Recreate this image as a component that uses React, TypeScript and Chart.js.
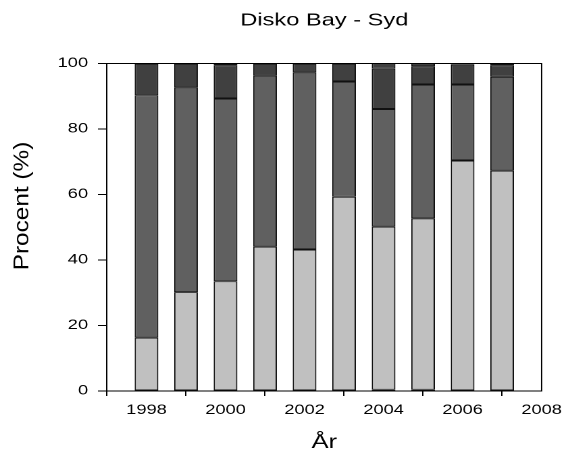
import React, { useEffect, useRef } from "react";
import { Chart, registerables } from "chart.js";

Chart.register(...registerables);

// ---- data ----
const years = [1998, 1999, 2000, 2001, 2002, 2003, 2004, 2005, 2006, 2007];
const traceShare = [null, null, null, null, null, null, 0.4, 0.4, null, null];
const lightShare = [16.3, 30.2, 33.5, 44.1, 43.2, 59.3, 49.8, 52.3, 70.4, 67.3];
const midShare = [74.0, 62.5, 55.8, 52.2, 54.1, 35.2, 35.9, 40.9, 23.2, 28.6];
const darkShare = [9.7, 7.3, 10.2, 3.7, 2.7, 5.5, 12.3, 5.6, 6.0, 3.6];
const topShare = [null, null, 0.5, null, null, null, 2.0, 1.2, 0.4, 0.5];
const xTickValues = [1998, 2000, 2002, 2004, 2006, 2008];
const yTickValues = [0, 20, 40, 60, 80, 100];
const chartTitle = "Disko Bay - Syd";
const xTitle = "År";
const yTitle = "Procent (%)";

// ---- geometry / style ----
const CSS_W = 570;
const CSS_H = 453;
const CANVAS_W = 422;
const STRETCH = CSS_W / CANVAS_W;
const FONT = '"Liberation Sans", Arial, Helvetica, sans-serif';

const LIGHT = "#c0c0c0";
const MID = "#606060";
const DARK = "#404040";
const EDGE = "#111111";

function toPoints(vals: (number | null)[]) {
  return years.map((x, i) => ({ x, y: vals[i] }));
}

export default function App() {
  const ref = useRef<HTMLCanvasElement | null>(null);

  useEffect(() => {
    if (!ref.current) return;
    const mk = (label: string, vals: (number | null)[], color: string) => ({
      label,
      data: toPoints(vals),
      backgroundColor: color,
      borderColor: EDGE,
      borderWidth: 1,
      borderSkipped: false as const,
      barPercentage: 0.6,
      categoryPercentage: 1.0,
    });

    const framePlugin = {
      id: "frame",
      afterDraw(chart: any) {
        const { ctx, chartArea } = chart;
        ctx.save();
        ctx.strokeStyle = "#000";
        ctx.lineWidth = 1;
        ctx.beginPath();
        ctx.moveTo(chartArea.left, chartArea.top);
        ctx.lineTo(chartArea.right, chartArea.top);
        ctx.lineTo(chartArea.right, chartArea.bottom);
        ctx.stroke();
        // y-axis title, drawn without the page's horizontal stretch
        ctx.translate(22.5 / STRETCH, 206);
        ctx.scale(1 / STRETCH, 1);
        ctx.rotate(-Math.PI / 2);
        ctx.scale(1.16, 1);
        ctx.font = `21px ${FONT}`;
        ctx.fillStyle = "#000";
        ctx.textAlign = "center";
        ctx.textBaseline = "middle";
        ctx.fillText(yTitle, 0, 0);
        ctx.restore();
      },
    };

    const chart = new Chart(ref.current, {
      type: "bar",
      data: {
        datasets: [
          mk("trace", traceShare, "#000000"),
          mk("light", lightShare, LIGHT),
          mk("mid", midShare, MID),
          mk("dark", darkShare, DARK),
          mk("top", topShare, DARK),
        ],
      },
      options: {
        animation: false,
        responsive: false,
        devicePixelRatio: 2,
        layout: { padding: { left: 0, right: 18.3, top: 0, bottom: 0 } },
        plugins: {
          legend: { display: false },
          tooltip: { enabled: false },
          title: {
            display: true,
            text: chartTitle,
            fullSize: false,
            color: "#000",
            font: { family: FONT, size: 17.5, weight: "normal", lineHeight: 1.2 },
            padding: { top: 10, bottom: 32.5 },
          },
        },
        scales: {
          x: {
            type: "linear",
            stacked: true,
            min: 1997,
            max: 2008,
            offset: false,
            afterBuildTicks: (s: any) => {
              s.ticks = xTickValues.map((v) => ({ value: v }));
            },
            afterFit: (s: any) => {
              s.height = 62;
            },
            grid: {
              display: true,
              drawOnChartArea: false,
              drawTicks: true,
              tickLength: 5,
              color: "#000",
            },
            border: { display: true, color: "#000", width: 1 },
            ticks: {
              color: "#000",
              font: { family: FONT, size: 13.5 },
              padding: 6,
              maxRotation: 0,
              autoSkip: false,
              callback: (v: any) => String(v),
            },
            title: {
              display: true,
              text: xTitle,
              color: "#000",
              font: { family: FONT, size: 19, lineHeight: 1.2 },
              padding: { top: 0, bottom: -1 },
            },
          },
          y: {
            stacked: true,
            min: 0,
            max: 100,
            afterBuildTicks: (s: any) => {
              s.ticks = yTickValues.map((v) => ({ value: v }));
            },
            afterFit: (s: any) => {
              s.width = 79.2;
            },
            grid: {
              display: true,
              drawOnChartArea: false,
              drawTicks: true,
              tickLength: 6.7,
              color: "#000",
            },
            border: { display: true, color: "#000", width: 1 },
            ticks: {
              color: "#000",
              font: { family: FONT, size: 13.5 },
              padding: 7.3,
              callback: (v: any) => String(v),
            },
          },
        },
      },
      plugins: [framePlugin],
    } as any);

    return () => chart.destroy();
  }, []);

  return (
    <div style={{ position: "absolute", left: 0, top: 0, width: CSS_W, height: CSS_H, background: "#fff" }}>
      <canvas
        ref={ref}
        width={CANVAS_W}
        height={CSS_H}
        style={{ display: "block", width: `${CSS_W}px`, height: `${CSS_H}px` }}
      />
    </div>
  );
}
